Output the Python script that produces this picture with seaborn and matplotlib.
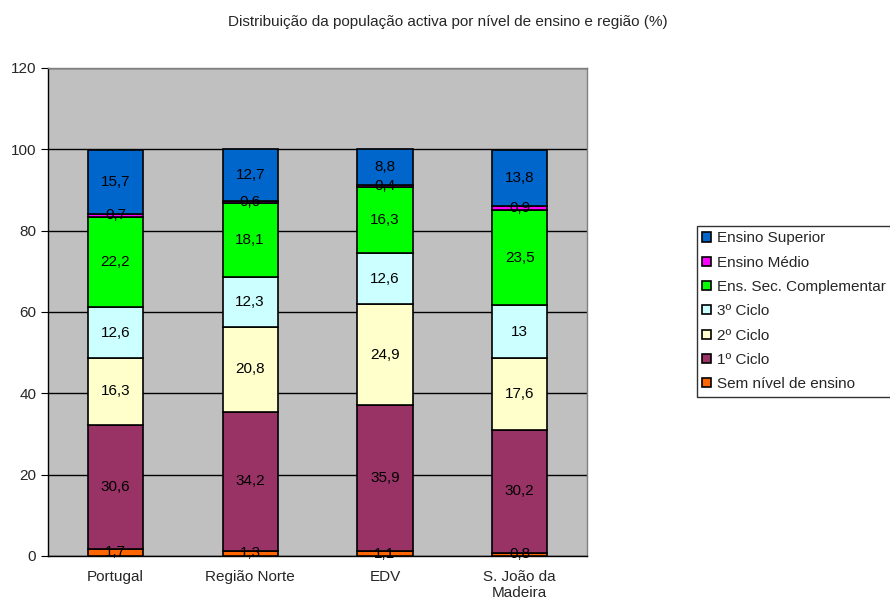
import matplotlib
matplotlib.use("Agg")
import matplotlib.pyplot as plt
import seaborn as sns
import numpy as np

# dados
regioes = ["Portugal", "Região Norte", "EDV", "S. João da\nMadeira"]
niveis = ["Sem nível de ensino", "1º Ciclo", "2º Ciclo", "3º Ciclo",
          "Ens. Sec. Complementar", "Ensino Médio", "Ensino Superior"]
sem_nivel = [1.7, 1.3, 1.1, 0.8]
ciclo1 = [30.6, 34.2, 35.9, 30.2]
ciclo2 = [16.3, 20.8, 24.9, 17.6]
ciclo3 = [12.6, 12.3, 12.6, 13]
sec_compl = [22.2, 18.1, 16.3, 23.5]
medio = [0.7, 0.6, 0.4, 0.9]
superior = [15.7, 12.7, 8.8, 13.8]
cores = ["#FF6600", "#993366", "#FFFFCC", "#CCFFFF", "#00FF00", "#FF00FF", "#0066CC"]

series = [sem_nivel, ciclo1, ciclo2, ciclo3, sec_compl, medio, superior]

sns.set_style("white")
plt.rcParams['font.family'] = ['Liberation Sans', 'DejaVu Sans']

fig = plt.figure(figsize=(8.9, 6.01), dpi=100)
ax = fig.add_axes([0.054, 0.075, 0.6056, 0.812])
ax.set_facecolor("#C0C0C0")

base = np.zeros(len(regioes))
for nome, vals, cor in zip(niveis, series, cores):
    sns.barplot(x=regioes, y=vals, bottom=base, color=cor, width=0.41, saturation=1,
                edgecolor="black", linewidth=1.2, label=nome, ax=ax, zorder=3)
    base = base + np.array(vals)

for cont in ax.containers:
    labs = [f"{v.get_height():g}".replace(".", ",") for v in cont]
    ax.bar_label(cont, labels=labs, label_type="center", fontsize=11, color="black")

ax.set_ylim(0, 120)
ax.set_xlim(-0.5, 3.5)
ax.set_yticks(range(0, 121, 20))
ax.yaxis.grid(True, color="black", linewidth=1, zorder=0)
ax.set_axisbelow(True)
ax.set_xticks(np.arange(-0.5, 4, 1), minor=True)
ax.tick_params(axis="x", which="major", length=0, labelsize=11, pad=10)
ax.tick_params(axis="x", which="minor", length=4, color="black", direction="out")
ax.tick_params(axis="y", length=5, color="black", direction="out", labelsize=11, left=True)
ax.set_xlabel("")
ax.set_ylabel("")
for s in ["left", "bottom"]:
    ax.spines[s].set_color("black")
    ax.spines[s].set_linewidth(1)
for s in ["top", "right"]:
    ax.spines[s].set_color("#808080")
    ax.spines[s].set_linewidth(1)

h, l = ax.get_legend_handles_labels()
if ax.get_legend() is not None:
    ax.get_legend().remove()
leg = fig.legend(h[::-1], l[::-1], loc="upper left", bbox_to_anchor=(0.783, 0.624),
                 frameon=True, fancybox=False, edgecolor="black", fontsize=11,
                 handlelength=0.55, handleheight=0.55, handletextpad=0.4,
                 labelspacing=0.675, borderaxespad=0, borderpad=0.35)
leg.get_frame().set_linewidth(1)

fig.text(0.503, 0.964, "Distribuição da população activa por nível de ensino e região (%)",
         ha="center", va="center", fontsize=11)

plt.savefig("out.png", dpi=100)
